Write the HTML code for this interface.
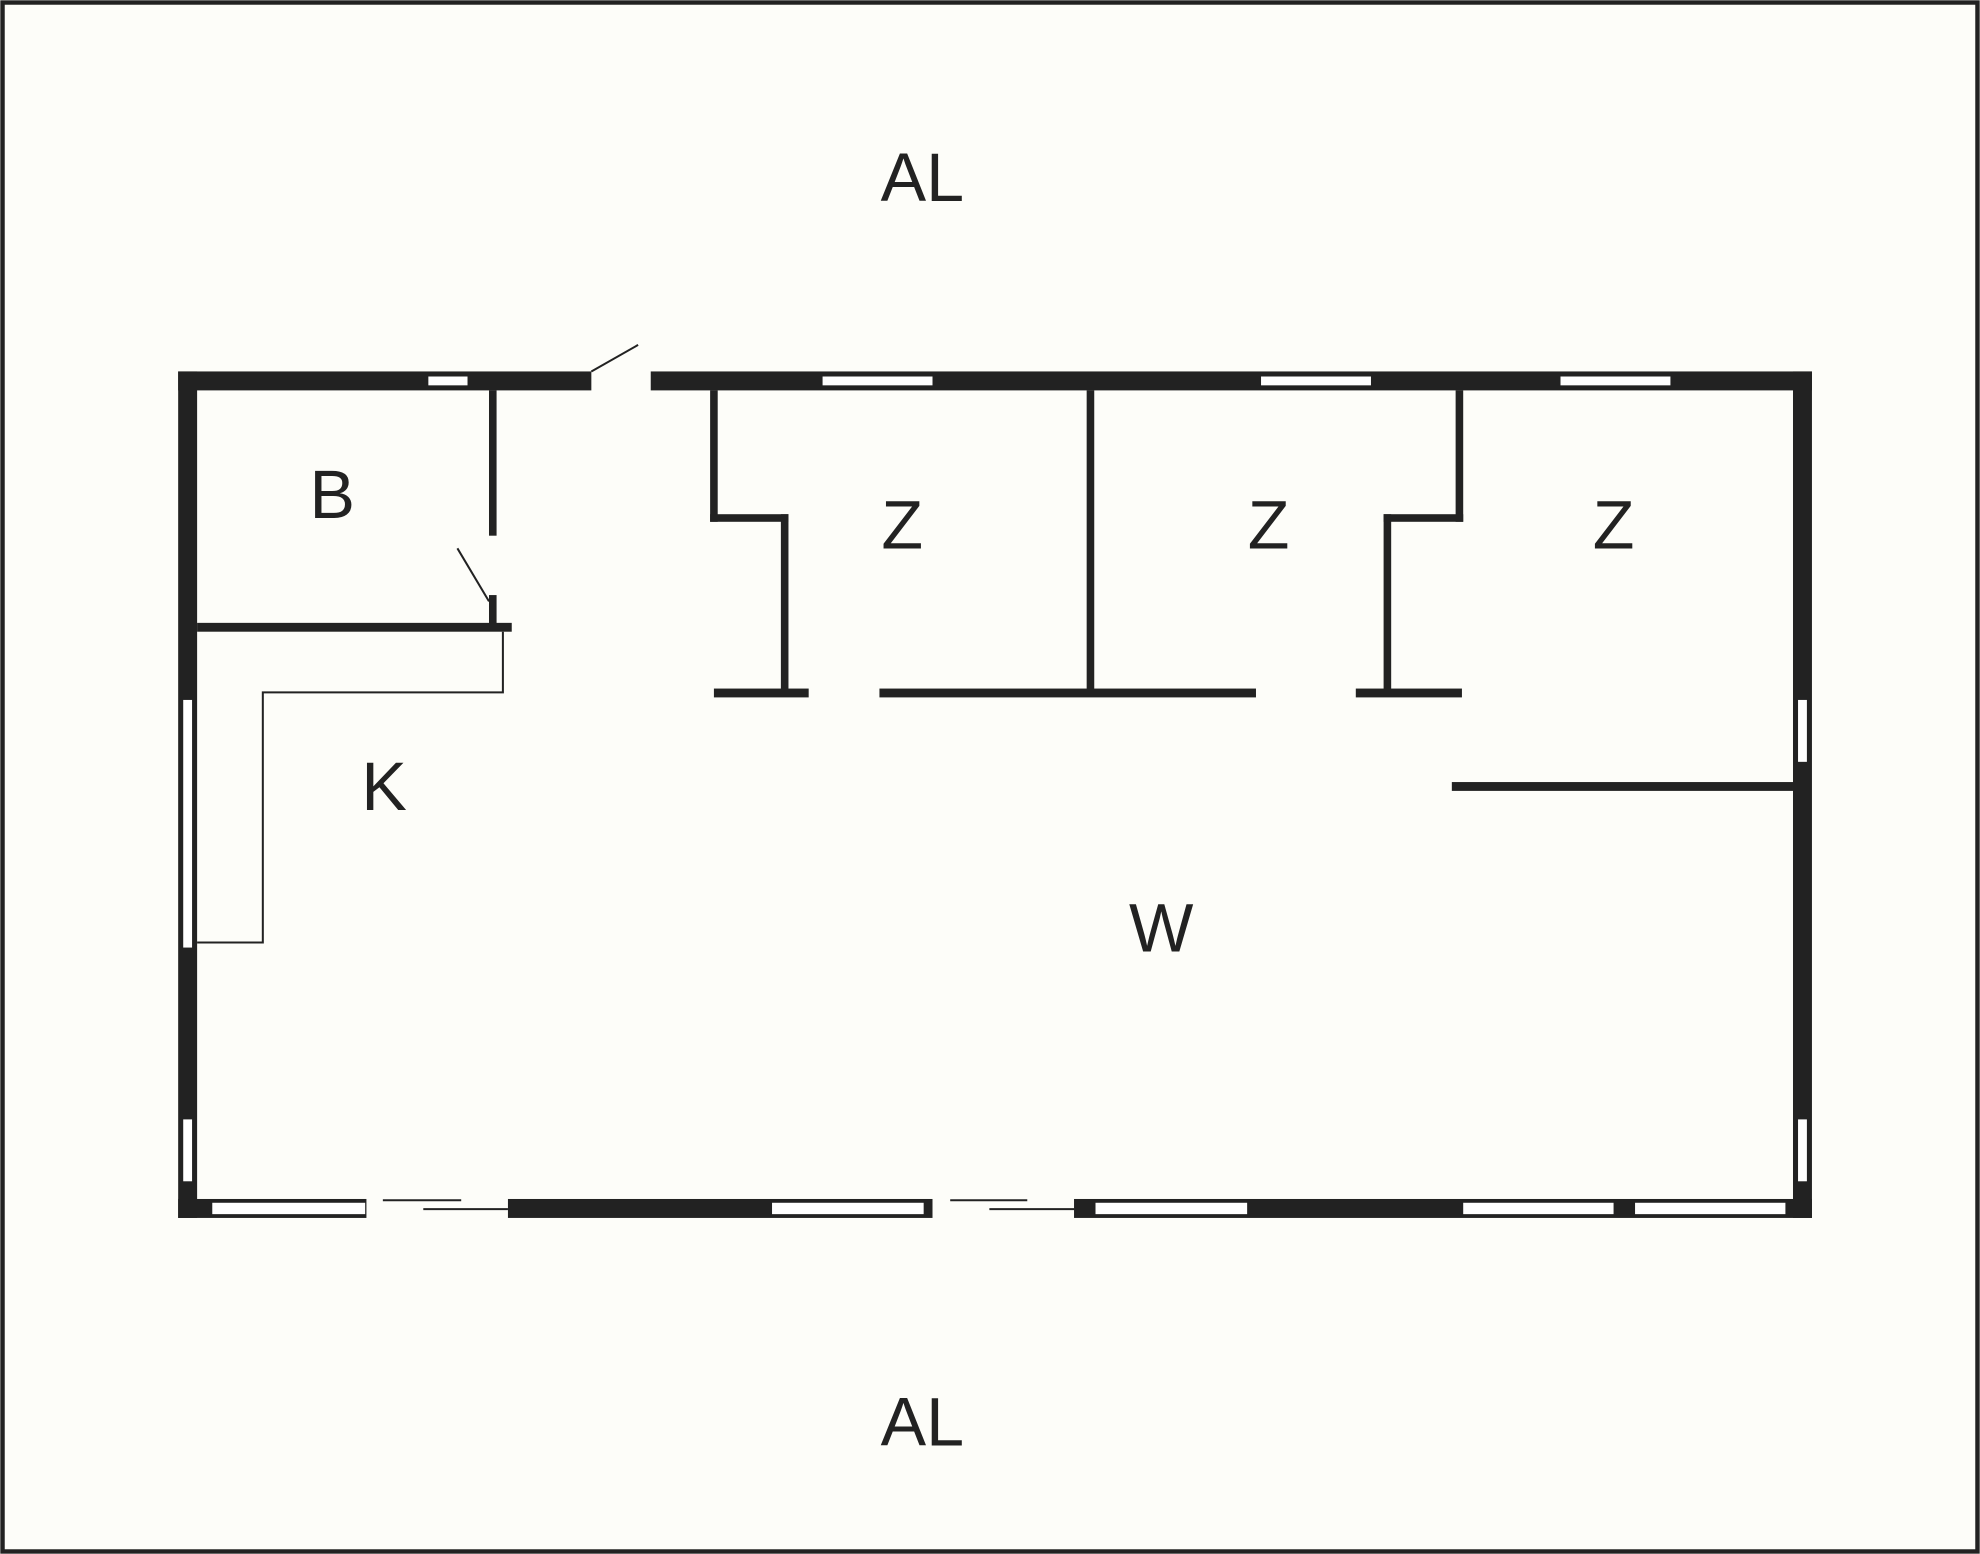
<!DOCTYPE html>
<html><head><style>html,body{margin:0;padding:0;background:#fdfdf9}svg{display:block}</style></head>
<body>
<svg width="1980" height="1554" viewBox="0 0 1567 1230" preserveAspectRatio="none" xmlns="http://www.w3.org/2000/svg">
<rect x="0" y="0" width="1567" height="1230" fill="#fdfdf9"/>
<rect x="2" y="2" width="1563" height="1226" fill="none" stroke="#222" stroke-width="3.5"/>
<g fill="#222">
<rect x="141" y="294" width="327" height="15"/>
<rect x="515" y="294" width="919" height="15"/>
<rect x="141" y="294" width="15" height="670"/>
<rect x="1419" y="294" width="15" height="670"/>
<rect x="141" y="949" width="149" height="15"/>
<rect x="402" y="949" width="336" height="15"/>
<rect x="850" y="949" width="584" height="15"/>
<rect x="387" y="309" width="6" height="115"/>
<rect x="387" y="471" width="6" height="24"/>
<rect x="156" y="493" width="249" height="7"/>
<rect x="562" y="309" width="6" height="104"/>
<rect x="562" y="407" width="62" height="6"/>
<rect x="618" y="407" width="6" height="141"/>
<rect x="565" y="545" width="75" height="7"/>
<rect x="860" y="309" width="6" height="239"/>
<rect x="696" y="545" width="298" height="7"/>
<rect x="1152" y="309" width="6" height="104"/>
<rect x="1095" y="407" width="63" height="6"/>
<rect x="1095" y="407" width="6" height="141"/>
<rect x="1073" y="545" width="84" height="7"/>
<rect x="1149" y="619" width="270" height="7"/>
</g>
<g fill="#fff">
<rect x="339" y="298" width="31" height="7"/>
<rect x="651" y="298" width="87" height="7"/>
<rect x="998" y="298" width="87" height="7"/>
<rect x="1235" y="298" width="87" height="7"/>
<rect x="168" y="952" width="121" height="9"/>
<rect x="611" y="952" width="120" height="9"/>
<rect x="867" y="952" width="120" height="9"/>
<rect x="1158" y="952" width="119" height="9"/>
<rect x="1294" y="952" width="119" height="9"/>
<rect x="145" y="554" width="7" height="196"/>
<rect x="145" y="886" width="7" height="49"/>
<rect x="1423" y="554" width="7" height="49"/>
<rect x="1423" y="886" width="7" height="49"/>
</g>
<g stroke="#222" fill="none" stroke-width="1.6">
<line x1="468" y1="294" x2="505" y2="273"/>
<line x1="362" y1="434" x2="387" y2="476"/>
<polyline points="398,500 398,548 208,548 208,746 156,746"/>
<line x1="303" y1="950" x2="365" y2="950"/>
<line x1="335" y1="957" x2="402" y2="957"/>
<line x1="752" y1="950" x2="813" y2="950"/>
<line x1="783" y1="957" x2="850" y2="957"/>
</g>
<g font-family="Liberation Sans, sans-serif" font-size="54" fill="#222" text-anchor="middle">
<text x="730" y="159">AL</text>
<text x="730" y="1144">AL</text>
<text x="263" y="410">B</text>
<text x="714" y="434">Z</text>
<text x="1004" y="434">Z</text>
<text x="1277" y="434">Z</text>
<text x="304" y="641">K</text>
<text x="919" y="753">W</text>
</g>
</svg>
</body></html>
